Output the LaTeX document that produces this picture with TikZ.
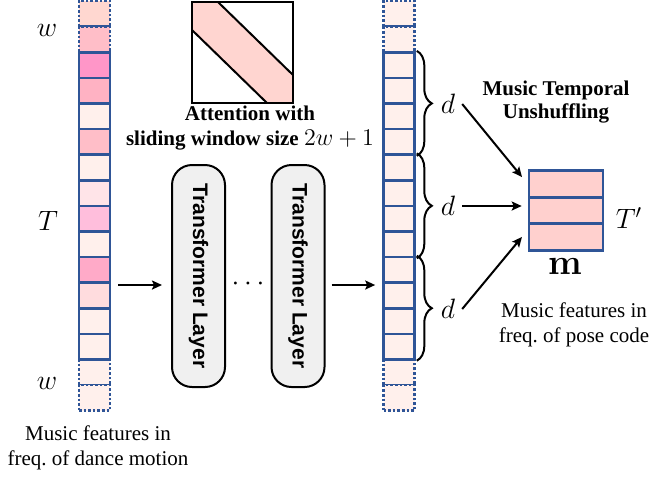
\RequirePackage{fix-cm}
\documentclass[tikz,border=0pt]{standalone}
\usepackage{graphicx}
\usepackage[no-math]{fontspec}
\setmainfont{Liberation Serif}
\newfontfamily\layerfont{Liberation Sans}
\usetikzlibrary{arrows.meta,decorations.pathreplacing}

\definecolor{cellblue}{RGB}{47,85,151}
\definecolor{hotpink}{RGB}{255,150,200}
\definecolor{rosepink}{RGB}{255,178,195}
\definecolor{midpink}{RGB}{255,190,200}
\definecolor{lilacpink}{RGB}{255,190,220}
\definecolor{deeppink}{RGB}{255,170,200}
\definecolor{softpink}{RGB}{255,220,222}
\definecolor{palepink}{RGB}{255,228,232}
\definecolor{blush}{RGB}{255,240,236}
\definecolor{salmonpad}{RGB}{255,215,208}
\definecolor{bandpink}{RGB}{255,213,208}
\definecolor{codepink}{RGB}{255,208,206}
\definecolor{layergray}{RGB}{240,240,240}

\tikzset{
  cell/.style={rectangle, draw=cellblue, line width=1.3pt, minimum width=15.5pt, minimum height=12.8pt, inner sep=0pt},
  padcell/.style={cell, densely dotted},
  codecell/.style={cell, fill=codepink, minimum width=37pt, minimum height=13.3pt},
  layer/.style={rectangle, rounded corners=10pt, draw, line width=1pt, fill=layergray, minimum width=26.5pt, minimum height=111pt, inner sep=0pt, font=\layerfont\bfseries\fontsize{10.5}{12}\selectfont},
  mathlbl/.style={font=\fontsize{14}{16}\selectfont},
  caption/.style={align=center, font=\fontsize{10.5}{12.5}\selectfont},
  boldcaption/.style={caption, font=\bfseries\fontsize{10.5}{11.5}\selectfont},
  >={Stealth[length=5pt,width=4.5pt,inset=1pt]}
}

\begin{document}
\begin{tikzpicture}[x=0.5pt, y=-0.5pt]
\useasboundingbox (0,0) rectangle (651,479);

% input music features
\foreach \k/\c in {0/salmonpad,1/midpink,14/blush,15/blush}
  \node[padcell, fill=\c] (L\k) at (94.5,{13.8+25.6*\k}) {};
\foreach \k/\c in {2/hotpink,3/rosepink,4/blush,5/midpink,6/blush,7/palepink,8/lilacpink,9/blush,10/deeppink,11/softpink,12/blush,13/blush}
  \node[cell, fill=\c] (L\k) at (94.5,{13.8+25.6*\k}) {};
\node[mathlbl] (wtop) at (47,30) {$w$};
\node[mathlbl] (T) at (48,221) {$T$};
\node[mathlbl] (wbot) at (47,383) {$w$};
\node[caption] (incap) at (98,448) {Music features in\\freq.\ of dance motion};

% attention pattern
\fill[bandpink] (192,2) -- (218,2) -- (293,75) -- (293,103) -- (267,103) -- (192,30) -- cycle;
\draw[line width=1pt] (218,2) -- (293,75);
\draw[line width=1pt] (192,30) -- (267,103);
\node[draw, line width=1pt, minimum size=50.5pt, inner sep=0pt] (att) at (242.5,52.5) {};
\node[boldcaption, font=\bfseries\fontsize{10.5}{12.5}\selectfont] (attcap) at (250,128) {Attention with\\sliding window size {\fontsize{12}{12}\selectfont$2w+1$}};

% transformer layers
\node[layer] (T1) at (198.5,276) {\rotatebox{-90}{Transformer Layer}};
\node[layer] (T2) at (298,276) {\rotatebox{-90}{Transformer Layer}};
\node[mathlbl] (dots) at (248,284) {$\cdots$};

% output music features
\foreach \k in {0,1,14,15}
  \node[padcell, fill=blush] (R\k) at (399,{13.8+25.6*\k}) {};
\foreach \k in {2,...,13}
  \node[cell, fill=blush] (R\k) at (399,{13.8+25.6*\k}) {};

\draw[->, line width=1pt] ([xshift=3.5pt,yshift=-4.5pt]T1.west -| L0.east) -- ([xshift=-4.5pt,yshift=-4.5pt]T1.west);
\draw[->, line width=1pt] ([xshift=3pt,yshift=-4.5pt]T2.east) -- ([xshift=-3.5pt,yshift=-4.5pt]T2.east -| R0.west);

% braces
\draw[decorate, decoration={brace, amplitude=7.5pt}, line width=1pt] ([xshift=0.5pt]R2.north east) -- ([xshift=0.5pt]R5.south east);
\draw[decorate, decoration={brace, amplitude=7.5pt}, line width=1pt] ([xshift=0.5pt]R6.north east) -- ([xshift=0.5pt]R9.south east);
\draw[decorate, decoration={brace, amplitude=7.5pt}, line width=1pt] ([xshift=0.5pt]R10.north east) -- ([xshift=0.5pt]R13.south east);
\node[mathlbl] (d1) at (448,104) {$d$};
\node[mathlbl] (d2) at (448,206) {$d$};
\node[mathlbl] (d3) at (448,309) {$d$};

% pose-code music features
\node[codecell] (m1) at (566,184) {};
\node[codecell] (m2) at (566,210.5) {};
\node[codecell] (m3) at (566,237) {};
\node[mathlbl] (Tp) at (629,218) {$T'$};
\node[font=\fontsize{18}{20}\selectfont] (m) at (565,266) {$\mathbf{m}$};
\node[boldcaption] (unshuf) at (556,102) {Music Temporal\\Unshuffling};
\node[caption] (outcap) at (574,325) {Music features in\\freq.\ of pose code};

\draw[->, line width=1pt, shorten >=4.5pt] (d1.east) -- (m1.west);
\draw[->, line width=1pt, shorten >=3pt] (d2.east) -- (d2.east -| m2.west);
\draw[->, line width=1pt, shorten >=4.5pt] (d3.east) -- ([yshift=3.5pt]m3.west);
\end{tikzpicture}
\end{document}
